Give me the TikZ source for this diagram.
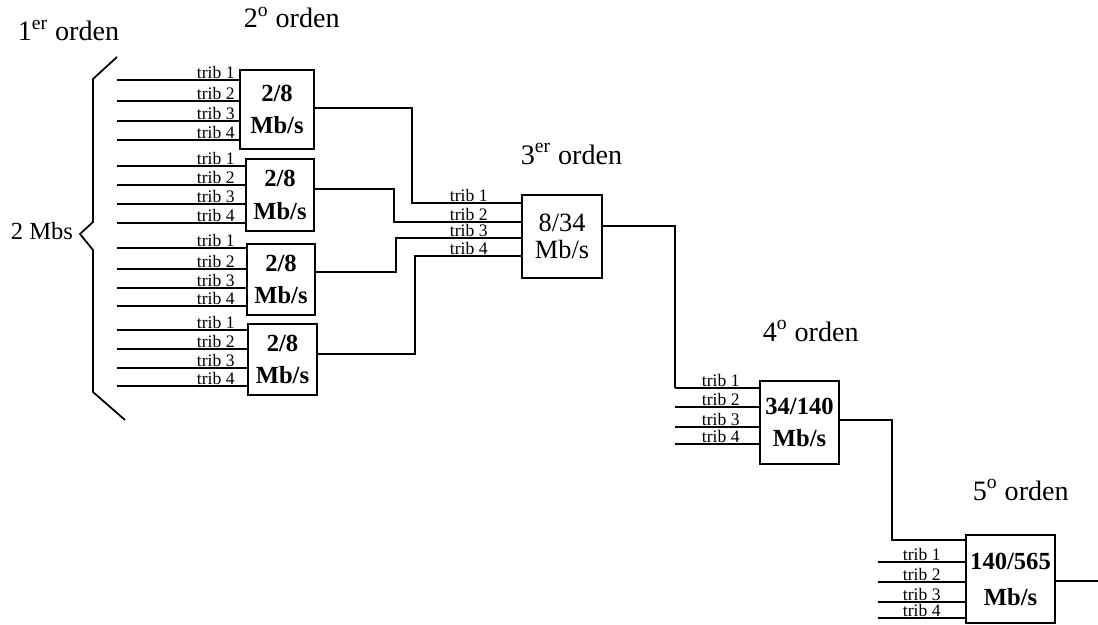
\documentclass[tikz,border=0pt]{standalone}
\usepackage{fontspec}
\setmainfont{Liberation Serif}
\usetikzlibrary{calc}

\tikzset{
  mux/.style={draw,line width=1pt,inner sep=0pt,align=center,
    font=\fontsize{14}{18.5}\selectfont\bfseries},
  tribl/.style={anchor=south east,inner sep=0.4pt,
    font=\fontsize{10}{10}\selectfont},
  orden/.style={anchor=base west,inner sep=0pt,
    font=\fontsize{16}{16}\selectfont},
}

\begin{document}
\begin{tikzpicture}[x=0.02cm,y=-0.02cm,line width=1pt]
  \useasboundingbox (0,0) rectangle (1098,625);

  % ordenes de la jerarquia
  \node[orden] (o1) at (17,41) {1\textsuperscript{er} orden};
  \node[orden] (o2) at (243,28) {2\textsuperscript{o} orden};
  \node[orden] (o3) at (520,164) {3\textsuperscript{er} orden};
  \node[orden] (o4) at (762,341) {4\textsuperscript{o} orden};
  \node[orden] (o5) at (972,500) {5\textsuperscript{o} orden};

  % multiplexores
  \node[mux,minimum width=1.48cm,minimum height=1.58cm]
    (m2a) at (277,109.5) {2/8\\Mb/s};
  \node[mux,minimum width=1.36cm,minimum height=1.44cm]
    (m2b) at (280,195) {2/8\\Mb/s};
  \node[mux,minimum width=1.36cm,minimum height=1.42cm]
    (m2c) at (281,279.5) {2/8\\Mb/s};
  \node[mux,minimum width=1.38cm,minimum height=1.42cm]
    (m2d) at (282.5,359.5) {2/8\\Mb/s};
  \node[mux,minimum width=1.6cm,minimum height=1.66cm,
    font=\fontsize{15}{15}\selectfont]
    (m3) at (562,236.5) {8/34\\Mb/s};
  \node[mux,minimum width=1.58cm,minimum height=1.66cm]
    (m4) at (799.5,422.5) {34/140\\Mb/s};
  \node[mux,minimum width=1.78cm,minimum height=1.76cm,
    font=\fontsize{14}{20.5}\selectfont\bfseries]
    (m5) at (1010.5,579) {140/565\\Mb/s};

  % tributarios de 2 Mb/s
  \foreach \m/\off/\ys in {m2a/3/{80,101,121,140},
      m2b/9/{166,185,204,223},m2c/10/{248,269,288,306},
      m2d/11/{330,349,368,386}} {
    \foreach \y [count=\k] in \ys {
      \coordinate (\m-t\k) at (117,\y);
      \draw (\m-t\k) -- (\m.west |- \m-t\k);
      \node[tribl] at ($(\m.west |- \m-t\k)+(-\off,0)$) {trib \k};
    }
  }

  % llave de 2 Mbs
  \draw (117,57) -- (93,79) -- (93,222) -- (80,234)
    -- (93,250) -- (93,392) -- (125,420);
  \node[anchor=base west,inner sep=0pt,font=\fontsize{14}{14}\selectfont]
    (e2) at (10,239) {2 Mbs};

  % 2o orden -> 3er orden
  \foreach \y [count=\k] in {203,222,238,256} {
    \coordinate (m3-t\k) at (m3.west |- 0,\y);
    \node[tribl] at ($(m3-t\k)+(-32,0)$) {trib \k};
  }
  \draw (m2a.east |- 0,108) -| (412,203) -- (m3-t1);
  \draw (m2b.east |- 0,189) -| (394,222) -- (m3-t2);
  \draw (m2c.east |- 0,272) -| (396,238) -- (m3-t3);
  \draw (m2d.east |- 0,354) -| (415,256) -- (m3-t4);

  % 3er orden -> 4o orden
  \foreach \y [count=\k] in {388,407,427,444} {
    \coordinate (m4-t\k) at (m4.west |- 0,\y);
    \coordinate (m4-s\k) at (675,\y);
    \draw (m4-s\k) -- (m4-t\k);
    \node[tribl] at ($(m4-t\k)+(-18,0)$) {trib \k};
  }
  \draw (m3.east |- 0,226) -| (m4-s1);

  % 4o orden -> 5o orden
  \foreach \y [count=\k] in {562,582,602,618} {
    \coordinate (m5-s\k) at (878,\y);
    \draw (m5-s\k) -- (m5.west |- m5-s\k);
    \node[tribl] at ($(m5.west |- m5-s\k)+(-23,0)$) {trib \k};
  }
  \draw (m4.east |- 0,420) -| (892,540) -- (m5.west |- 0,540);

  % salida de 565 Mb/s
  \coordinate (sal) at (1098,581);
  \draw (m5.east |- sal) -- (sal);
\end{tikzpicture}
\end{document}
